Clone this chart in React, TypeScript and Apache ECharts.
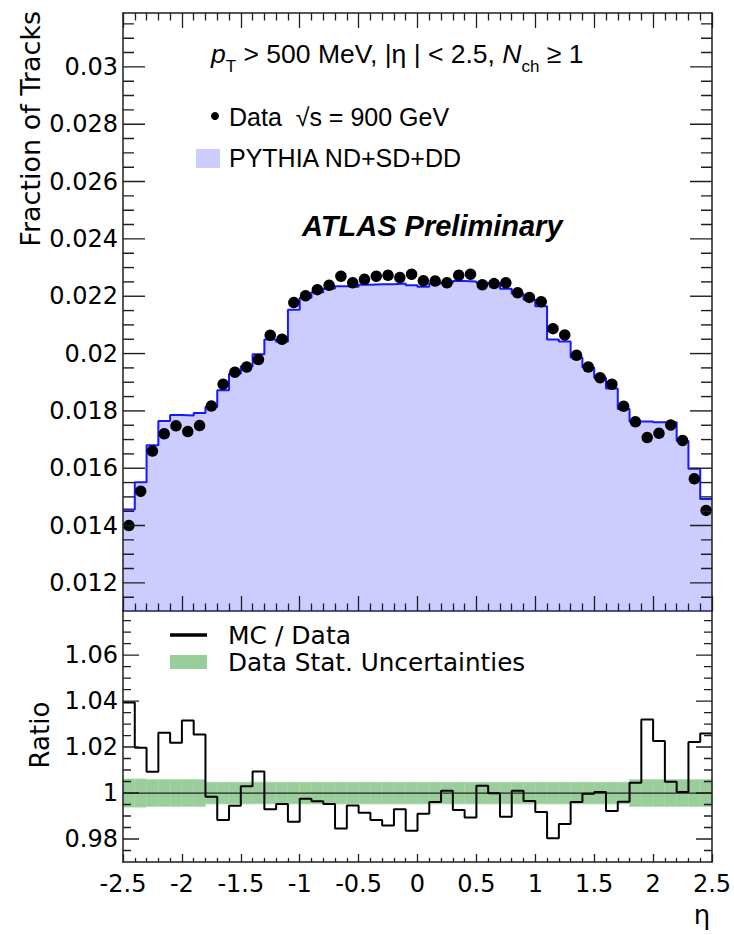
import React, { useEffect, useRef } from "react";
import * as echarts from "echarts";

// Binning in pseudorapidity
const ETA_MIN = -2.5;
const ETA_MAX = 2.5;
const BIN_WIDTH = 0.1;
const N_BINS = 50;

// Measured track fraction per eta bin (data, sqrt(s) = 900 GeV)
const DATA_FRACTION = [
  0.0140, 0.01520, 0.01660, 0.01720, 0.01748, 0.01728, 0.01749, 0.01817, 0.01893, 0.01935,
  0.01953, 0.01979, 0.02064, 0.02050, 0.02178, 0.02202, 0.02223, 0.02238, 0.02270, 0.02247,
  0.02259, 0.02270, 0.02273, 0.02265, 0.02277, 0.02254, 0.02253, 0.02247, 0.02273, 0.02277,
  0.02240, 0.02244, 0.02247, 0.02212, 0.02196, 0.02181, 0.02087, 0.02065, 0.01994, 0.01953,
  0.01916, 0.01893, 0.01816, 0.01762, 0.01707, 0.01722, 0.01751, 0.01697, 0.01563, 0.01453,
];

// PYTHIA ND+SD+DD prediction per eta bin
const MC_FRACTION = [
  0.01456, 0.01551, 0.01680, 0.01765, 0.01786, 0.01784, 0.01793, 0.01814, 0.01872, 0.01930,
  0.01956, 0.01998, 0.02049, 0.02041, 0.02153, 0.02195, 0.02214, 0.02227, 0.02235, 0.02233,
  0.02240, 0.02242, 0.02242, 0.02244, 0.02238, 0.02233, 0.02244, 0.02247, 0.02253, 0.02251,
  0.02247, 0.02244, 0.02226, 0.02209, 0.02188, 0.02165, 0.02049, 0.02042, 0.01986, 0.01951,
  0.01916, 0.01878, 0.01807, 0.01763, 0.01763, 0.01760, 0.01760, 0.01695, 0.01598, 0.01493,
];

// MC / Data ratio per eta bin
const RATIO = [
  1.0394, 1.0197, 1.0093, 1.0262, 1.0219, 1.0316, 1.0255, 0.9984, 0.9883, 0.9945,
  1.0030, 1.0094, 0.9929, 0.9952, 0.9875, 0.9975, 0.9964, 0.9952, 0.9846, 0.9946,
  0.9914, 0.9883, 0.9859, 0.9929, 0.9836, 0.9910, 0.9961, 1.0010, 0.9926, 0.9894,
  1.0032, 0.9999, 0.9897, 1.0010, 0.9965, 0.9917, 0.9803, 0.9865, 0.9961, 0.9997,
  1.0004, 0.9922, 0.9962, 1.0045, 1.0320, 1.0226, 1.0049, 1.0004, 1.0222, 1.0259,
];

// Relative statistical uncertainty of the data per eta bin
const STAT_UNC = [
  0.0061, 0.0061, 0.0058, 0.0058, 0.0058, 0.0058, 0.0058, 0.0047, 0.0047, 0.0047,
  0.0047, 0.0047, 0.0047, 0.0047, 0.0047, 0.0047, 0.0047, 0.0047, 0.0047, 0.0047,
  0.0047, 0.0047, 0.0047, 0.0047, 0.0047, 0.0047, 0.0047, 0.0047, 0.0047, 0.0047,
  0.0047, 0.0047, 0.0047, 0.0047, 0.0047, 0.0047, 0.0047, 0.0047, 0.0047, 0.0047,
  0.0047, 0.0047, 0.0047, 0.0058, 0.0058, 0.0058, 0.0058, 0.0058, 0.0058, 0.0058,
];

// Axis ticks and labels
const X_TICK_LABELS = ["-2.5", "-2", "-1.5", "-1", "-0.5", "0", "0.5", "1", "1.5", "2", "2.5"];
const TOP_Y_MAJOR = [0.012, 0.014, 0.016, 0.018, 0.02, 0.022, 0.024, 0.026, 0.028, 0.03];
const TOP_Y_LABELS = ["0.012", "0.014", "0.016", "0.018", "0.02", "0.022", "0.024", "0.026", "0.028", "0.03"];
const TOP_Y_MINOR = [
  0.0115, 0.0125, 0.013, 0.0135, 0.0145, 0.015, 0.0155, 0.0165, 0.017, 0.0175,
  0.0185, 0.019, 0.0195, 0.0205, 0.021, 0.0215, 0.0225, 0.023, 0.0235, 0.0245,
  0.025, 0.0255, 0.0265, 0.027, 0.0275, 0.0285, 0.029, 0.0295, 0.0305, 0.031, 0.0315,
];
const BOT_Y_MAJOR = [0.98, 1.0, 1.02, 1.04, 1.06];
const BOT_Y_LABELS = ["0.98", "1", "1.02", "1.04", "1.06"];
const BOT_Y_MINOR = [0.975, 0.985, 0.99, 0.995, 1.005, 1.01, 1.015, 1.025, 1.03, 1.035, 1.045, 1.05, 1.055, 1.065, 1.07, 1.075];

const TOP_Y_RANGE = [0.01102, 0.03188];
const BOT_Y_RANGE = [0.97, 1.0792];

// Layout
const W = 734;
const H = 935;
const PLOT_L = 123;
const PLOT_R = 712;
const TOP_T = 13;
const TOP_B = 611;
const BOT_B = 862;

const TICK_FONT = "DejaVu Sans";
const TEXT_FONT = "Liberation Sans";
const FRAME = "#1e1e1e";

const edges = Array.from({ length: N_BINS + 1 }, (_, i) => +(ETA_MIN + i * BIN_WIDTH).toFixed(2));
const centers = Array.from({ length: N_BINS }, (_, i) => +(ETA_MIN + (i + 0.5) * BIN_WIDTH).toFixed(2));

const stepData = (vals: number[]) => edges.map((e, i) => [e, vals[Math.min(i, vals.length - 1)]]);

const pickLabel = (v: number, ticks: number[], labels: string[]) => {
  for (let i = 0; i < ticks.length; i++) if (Math.abs(ticks[i] - v) < 1e-7) return labels[i];
  return "";
};

function xAxisCfg(gridIndex: number, position: string, major: number, minor: number, labels: boolean, lineColor = FRAME) {
  return {
    type: "value",
    gridIndex,
    position,
    z: 10,
    min: ETA_MIN,
    max: ETA_MAX,
    interval: 0.5,
    axisLine: { show: true, onZero: false, lineStyle: { color: lineColor, width: 1.5 } },
    axisTick: { show: major > 0, inside: true, length: major, lineStyle: { color: FRAME, width: 1.3 } },
    minorTick: { show: minor > 0, splitNumber: 5, length: minor, lineStyle: { color: FRAME, width: 1.3 } },
    splitLine: { show: false },
    minorSplitLine: { show: false },
    axisLabel: {
      show: labels,
      margin: 10,
      fontFamily: TICK_FONT,
      fontSize: 24,
      color: "#000",
      formatter: (v: number) => X_TICK_LABELS[Math.round((v - ETA_MIN) / 0.5)] ?? "",
    },
  };
}

function yAxisCfg(gridIndex: number, position: string, range: number[], ticks: number[], labels: string[] | null) {
  return {
    type: "value",
    gridIndex,
    position,
    z: 10,
    min: range[0],
    max: range[1],
    axisLine: { show: true, onZero: false, lineStyle: { color: FRAME, width: 1.5 } },
    axisTick: { show: false },
    splitLine: { show: false },
    axisLabel: labels
      ? {
          show: true,
          customValues: ticks,
          margin: 5,
          fontFamily: TICK_FONT,
          fontSize: 24,
          color: "#000",
          formatter: (v: number) => pickLabel(v, ticks, labels),
        }
      : { show: false },
  };
}

// One short horizontal segment per y tick and frame side, as plain line series
// on the panel's axes; the tick length in pixels becomes an eta span.
function yTickSeries(axisIndex: number, values: number[], lenPx: number) {
  const dEta = (lenPx / (PLOT_R - PLOT_L)) * (ETA_MAX - ETA_MIN);
  const out: any[] = [];
  values.forEach((v) => {
    [
      [ETA_MIN, ETA_MIN + dEta],
      [ETA_MAX - dEta, ETA_MAX],
    ].forEach(([a, b]) => {
      out.push({
        type: "line",
        xAxisIndex: axisIndex,
        yAxisIndex: axisIndex,
        silent: true,
        symbol: "none",
        z: 20,
        data: [
          [a, v],
          [b, v],
        ],
        lineStyle: { color: FRAME, width: 1.4 },
      });
    });
  });
  return out;
}

const graphics = [
  {
    type: "text",
    x: 30,
    y: 11,
    rotation: Math.PI / 2,
    style: { text: "Fraction of Tracks", font: `27px "${TICK_FONT}"`, align: "right", verticalAlign: "middle", fill: "#000" },
  },
  {
    type: "text",
    x: 40,
    y: 735,
    rotation: Math.PI / 2,
    style: { text: "Ratio", font: `26px "${TICK_FONT}"`, align: "center", verticalAlign: "middle", fill: "#000" },
  },
  {
    type: "text",
    x: 702,
    y: 915,
    style: { text: "η", font: `26px "${TICK_FONT}"`, align: "center", verticalAlign: "middle", fill: "#000" },
  },
  {
    type: "text",
    x: 211,
    y: 40,
    style: {
      text: "{it|p}{sub|T}{n| > 500 MeV, |η | < 2.5, }{it|N}{sub|ch}{n| ≥ 1}",
      verticalAlign: "top",
      rich: {
        it: { fontFamily: TEXT_FONT, fontSize: 26.5, fontStyle: "italic", lineHeight: 30, verticalAlign: "top", fill: "#000" },
        n: { fontFamily: TEXT_FONT, fontSize: 26.5, lineHeight: 30, verticalAlign: "top", fill: "#000" },
        sub: { fontFamily: TEXT_FONT, fontSize: 17, lineHeight: 22, padding: [18, 0, 0, 0], verticalAlign: "top", fill: "#000" },
      },
    },
  },
  { type: "circle", shape: { cx: 215, cy: 116, r: 4 }, style: { fill: "#000" } },
  {
    type: "text",
    x: 229,
    y: 117,
    style: { text: "Data  √s = 900 GeV", font: `25px "${TEXT_FONT}"`, verticalAlign: "middle", fill: "#000" },
  },
  { type: "rect", shape: { x: 196, y: 149, width: 24, height: 19 }, style: { fill: "#ccccff" } },
  {
    type: "text",
    x: 229,
    y: 158,
    style: { text: "PYTHIA ND+SD+DD", font: `25px "${TEXT_FONT}"`, verticalAlign: "middle", fill: "#000" },
  },
  {
    type: "text",
    x: 302,
    y: 226,
    style: { text: "ATLAS Preliminary", font: `italic bold 29px "${TEXT_FONT}"`, verticalAlign: "middle", fill: "#000" },
  },
  { type: "line", shape: { x1: 170, y1: 635, x2: 207, y2: 635 }, style: { stroke: "#000", lineWidth: 3.5 } },
  {
    type: "text",
    x: 228,
    y: 635,
    style: { text: "MC / Data", font: `25px "${TICK_FONT}"`, verticalAlign: "middle", fill: "#000" },
  },
  { type: "rect", shape: { x: 170, y: 655, width: 37, height: 14 }, style: { fill: "#99cd99" } },
  {
    type: "text",
    x: 228,
    y: 662,
    style: { text: "Data Stat. Uncertainties", font: `24.7px "${TICK_FONT}"`, verticalAlign: "middle", fill: "#000" },
  },
];

export default function App() {
  const ref = useRef<HTMLDivElement>(null);

  useEffect(() => {
    if (!ref.current) return;
    const chart = echarts.init(ref.current, null, { renderer: "svg" });

    const option = {
      animation: false,
      backgroundColor: "#fff",
      grid: [
        { left: PLOT_L, top: TOP_T, width: PLOT_R - PLOT_L, height: TOP_B - TOP_T, outerBoundsMode: "none" },
        { left: PLOT_L, top: TOP_B, width: PLOT_R - PLOT_L, height: BOT_B - TOP_B, outerBoundsMode: "none" },
      ],
      xAxis: [
        xAxisCfg(0, "bottom", 15, 7.5, false, "#1d1d6e"),
        xAxisCfg(1, "bottom", 8, 4, true),
        xAxisCfg(0, "top", 15, 7.5, false),
      ],
      yAxis: [
        yAxisCfg(0, "left", TOP_Y_RANGE, TOP_Y_MAJOR, TOP_Y_LABELS),
        yAxisCfg(1, "left", BOT_Y_RANGE, BOT_Y_MAJOR, BOT_Y_LABELS),
        yAxisCfg(0, "right", TOP_Y_RANGE, TOP_Y_MAJOR, null),
        yAxisCfg(1, "right", BOT_Y_RANGE, BOT_Y_MAJOR, null),
      ],
      series: [
        {
          name: "PYTHIA ND+SD+DD",
          type: "line",
          xAxisIndex: 0,
          yAxisIndex: 0,
          step: "end",
          symbol: "none",
          data: stepData(MC_FRACTION),
          lineStyle: { color: "#1818ff", width: 2 },
          areaStyle: { color: "#ccccff", opacity: 1, origin: "start" },
          z: 1,
        },
        {
          name: "Data",
          type: "scatter",
          xAxisIndex: 0,
          yAxisIndex: 0,
          symbol: "circle",
          symbolSize: 11.5,
          itemStyle: { color: "#000", opacity: 1 },
          data: centers.map((c, i) => [c, DATA_FRACTION[i]]),
          z: 3,
        },
        {
          name: "Data Stat. Uncertainties",
          type: "custom",
          xAxisIndex: 1,
          yAxisIndex: 1,
          data: centers.map((c, i) => [edges[i], edges[i + 1], 1 + STAT_UNC[i], 1 - STAT_UNC[i]]),
          renderItem: (_params: any, api: any) => {
            const p0 = api.coord([api.value(0), api.value(2)]);
            const p1 = api.coord([api.value(1), api.value(3)]);
            return {
              type: "rect",
              shape: { x: p0[0], y: p0[1], width: p1[0] - p0[0], height: p1[1] - p0[1] },
              style: { fill: "#99cd99", stroke: "#a8d4a8", lineWidth: 0.8 },
            };
          },
          z: 1,
        },
        {
          name: "unity",
          type: "line",
          xAxisIndex: 1,
          yAxisIndex: 1,
          symbol: "none",
          data: [
            [ETA_MIN, 1],
            [ETA_MAX, 1],
          ],
          lineStyle: { color: "#222", width: 1.2 },
          z: 2,
        },
        {
          name: "MC / Data",
          type: "line",
          xAxisIndex: 1,
          yAxisIndex: 1,
          step: "end",
          symbol: "none",
          data: stepData(RATIO),
          lineStyle: { color: "#000", width: 2 },
          z: 3,
        },
        ...yTickSeries(0, TOP_Y_MAJOR, 22),
        ...yTickSeries(0, TOP_Y_MINOR, 11),
        ...yTickSeries(1, BOT_Y_MAJOR, 16),
        ...yTickSeries(1, BOT_Y_MINOR, 8),
      ],
      graphic: graphics,
    };

    chart.setOption(option as any);
    return () => chart.dispose();
  }, []);

  return <div ref={ref} style={{ position: "fixed", left: 0, top: 0, width: W, height: H, background: "#fff" }} />;
}
